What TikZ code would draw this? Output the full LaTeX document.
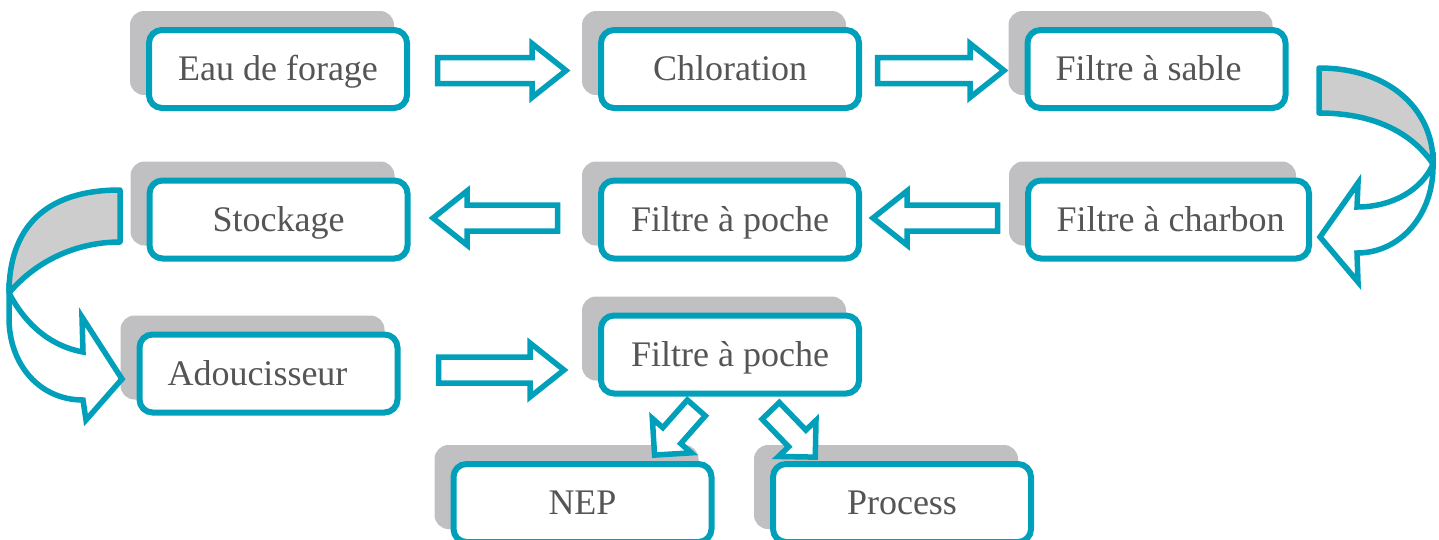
\documentclass[tikz,border=0pt]{standalone}
\usepackage{fontspec}
\setmainfont{Liberation Serif}
\usetikzlibrary{calc}
\definecolor{tealblue}{RGB}{0,160,186}
\definecolor{shadowgray}{RGB}{192,192,195}
\definecolor{bandgray}{RGB}{205,205,205}
\definecolor{txtgray}{RGB}{85,85,85}
\newcommand\procbox[5][258]{%
  \fill[shadowgray, rounded corners=14pt] (#3-#1/2-19, #4-58) rectangle ++(#1+6, 84);
  \node[stepbox, minimum width=#1pt] (#2) at (#3,#4) {#5};}
\newcommand\blockarrow[6]{% shift, angle, length, headlen, headhalf, shafthalf
  \draw[barrow, shift={#1}, rotate=#2] (0,-#6) -- (#3-#4,-#6) -- (#3-#4,-#5) -- (#3,0)
     -- (#3-#4,#5) -- (#3-#4,#6) -- (0,#6) -- cycle;}
\begin{document}
\begin{tikzpicture}[x=1pt,y=-1pt,
  stepbox/.style={draw=tealblue, line width=6pt, fill=white, rounded corners=13pt,
    minimum height=78pt, inner sep=0pt, text=txtgray, text height=23pt, text depth=0pt,
    font=\fontsize{36}{40}\selectfont},
  barrow/.style={draw=tealblue, line width=5.5pt, fill=white, line join=miter},
  bandback/.style={draw=tealblue, line width=5.5pt, fill=bandgray, line join=round},
  bandfront/.style={draw=tealblue, line width=5.5pt, fill=white, line join=miter}]
\useasboundingbox (0,0) rectangle (1439,539);

% boxes
\procbox{eau}{278}{69}{Eau de forage}
\procbox{chlor}{730}{69}{Chloration}
\procbox{sable}{1156.5}{69}{\hspace*{-16pt}Filtre à sable}
\procbox{stock}{278.5}{219.5}{Stockage}
\procbox{pocheA}{730}{219.5}{Filtre à poche}
\procbox[281]{charbon}{1168.5}{219.5}{\hspace*{4pt}Filtre à charbon}
\procbox{adouc}{268.5}{373.5}{\hspace*{-22pt}Adoucisseur}
\procbox{pocheB}{730}{354.5}{Filtre à poche}
\procbox{nep}{582.5}{503}{NEP}
\procbox{process}{902}{503}{Process}

% straight block arrows
\blockarrow{($(eau.east)+(27.5,1.5)$)}{0}{128.5}{34}{27}{13}
\blockarrow{($(chlor.east)+(15.5,1.5)$)}{0}{126.5}{34}{27}{13}
\blockarrow{($(charbon.west)+(-27.5,-1.5)$)}{180}{124.5}{34}{27}{13}
\blockarrow{($(pocheA.west)+(-40.5,-1.5)$)}{180}{124.5}{34}{27}{13}
\blockarrow{($(adouc.east)+(38,-3.5)$)}{0}{125.5}{34}{27}{13}
\blockarrow{($(pocheB.south)+(-33.7,11.4)$)}{-131.5}{63}{26}{26}{12}
\blockarrow{($(pocheB.south)+(40.7,14.3)$)}{-46.1}{64.3}{26}{26}{12}

% right curved arrow (Filtre a sable -> Filtre a charbon)
\draw[bandback] (1319,68) .. controls (1392,68) and (1434,112) .. (1433,164)
  .. controls (1410,130) and (1370,113) .. (1319,113) -- cycle;
\draw[bandfront] (1433,164) .. controls (1434,215) and (1400,253) .. (1357,253)
  -- (1358,282) -- (1320,237) -- (1358,183) -- (1357,207)
  .. controls (1392,207) and (1422,190) .. (1433,164) -- cycle;

% left curved arrow (Stockage -> Adoucisseur)
\draw[bandback] (120,190) .. controls (45,190) and (9,228) .. (9,293)
  .. controls (35,262) and (75,242) .. (120,242) -- cycle;
\draw[bandfront] (9,293) -- (9,318) .. controls (9,365) and (40,400) .. (83,400)
  -- (86,420) -- (122,379) -- (82,317) -- (83,352)
  .. controls (45,345) and (22,318) .. (9,293) -- cycle;
\end{tikzpicture}
\end{document}
